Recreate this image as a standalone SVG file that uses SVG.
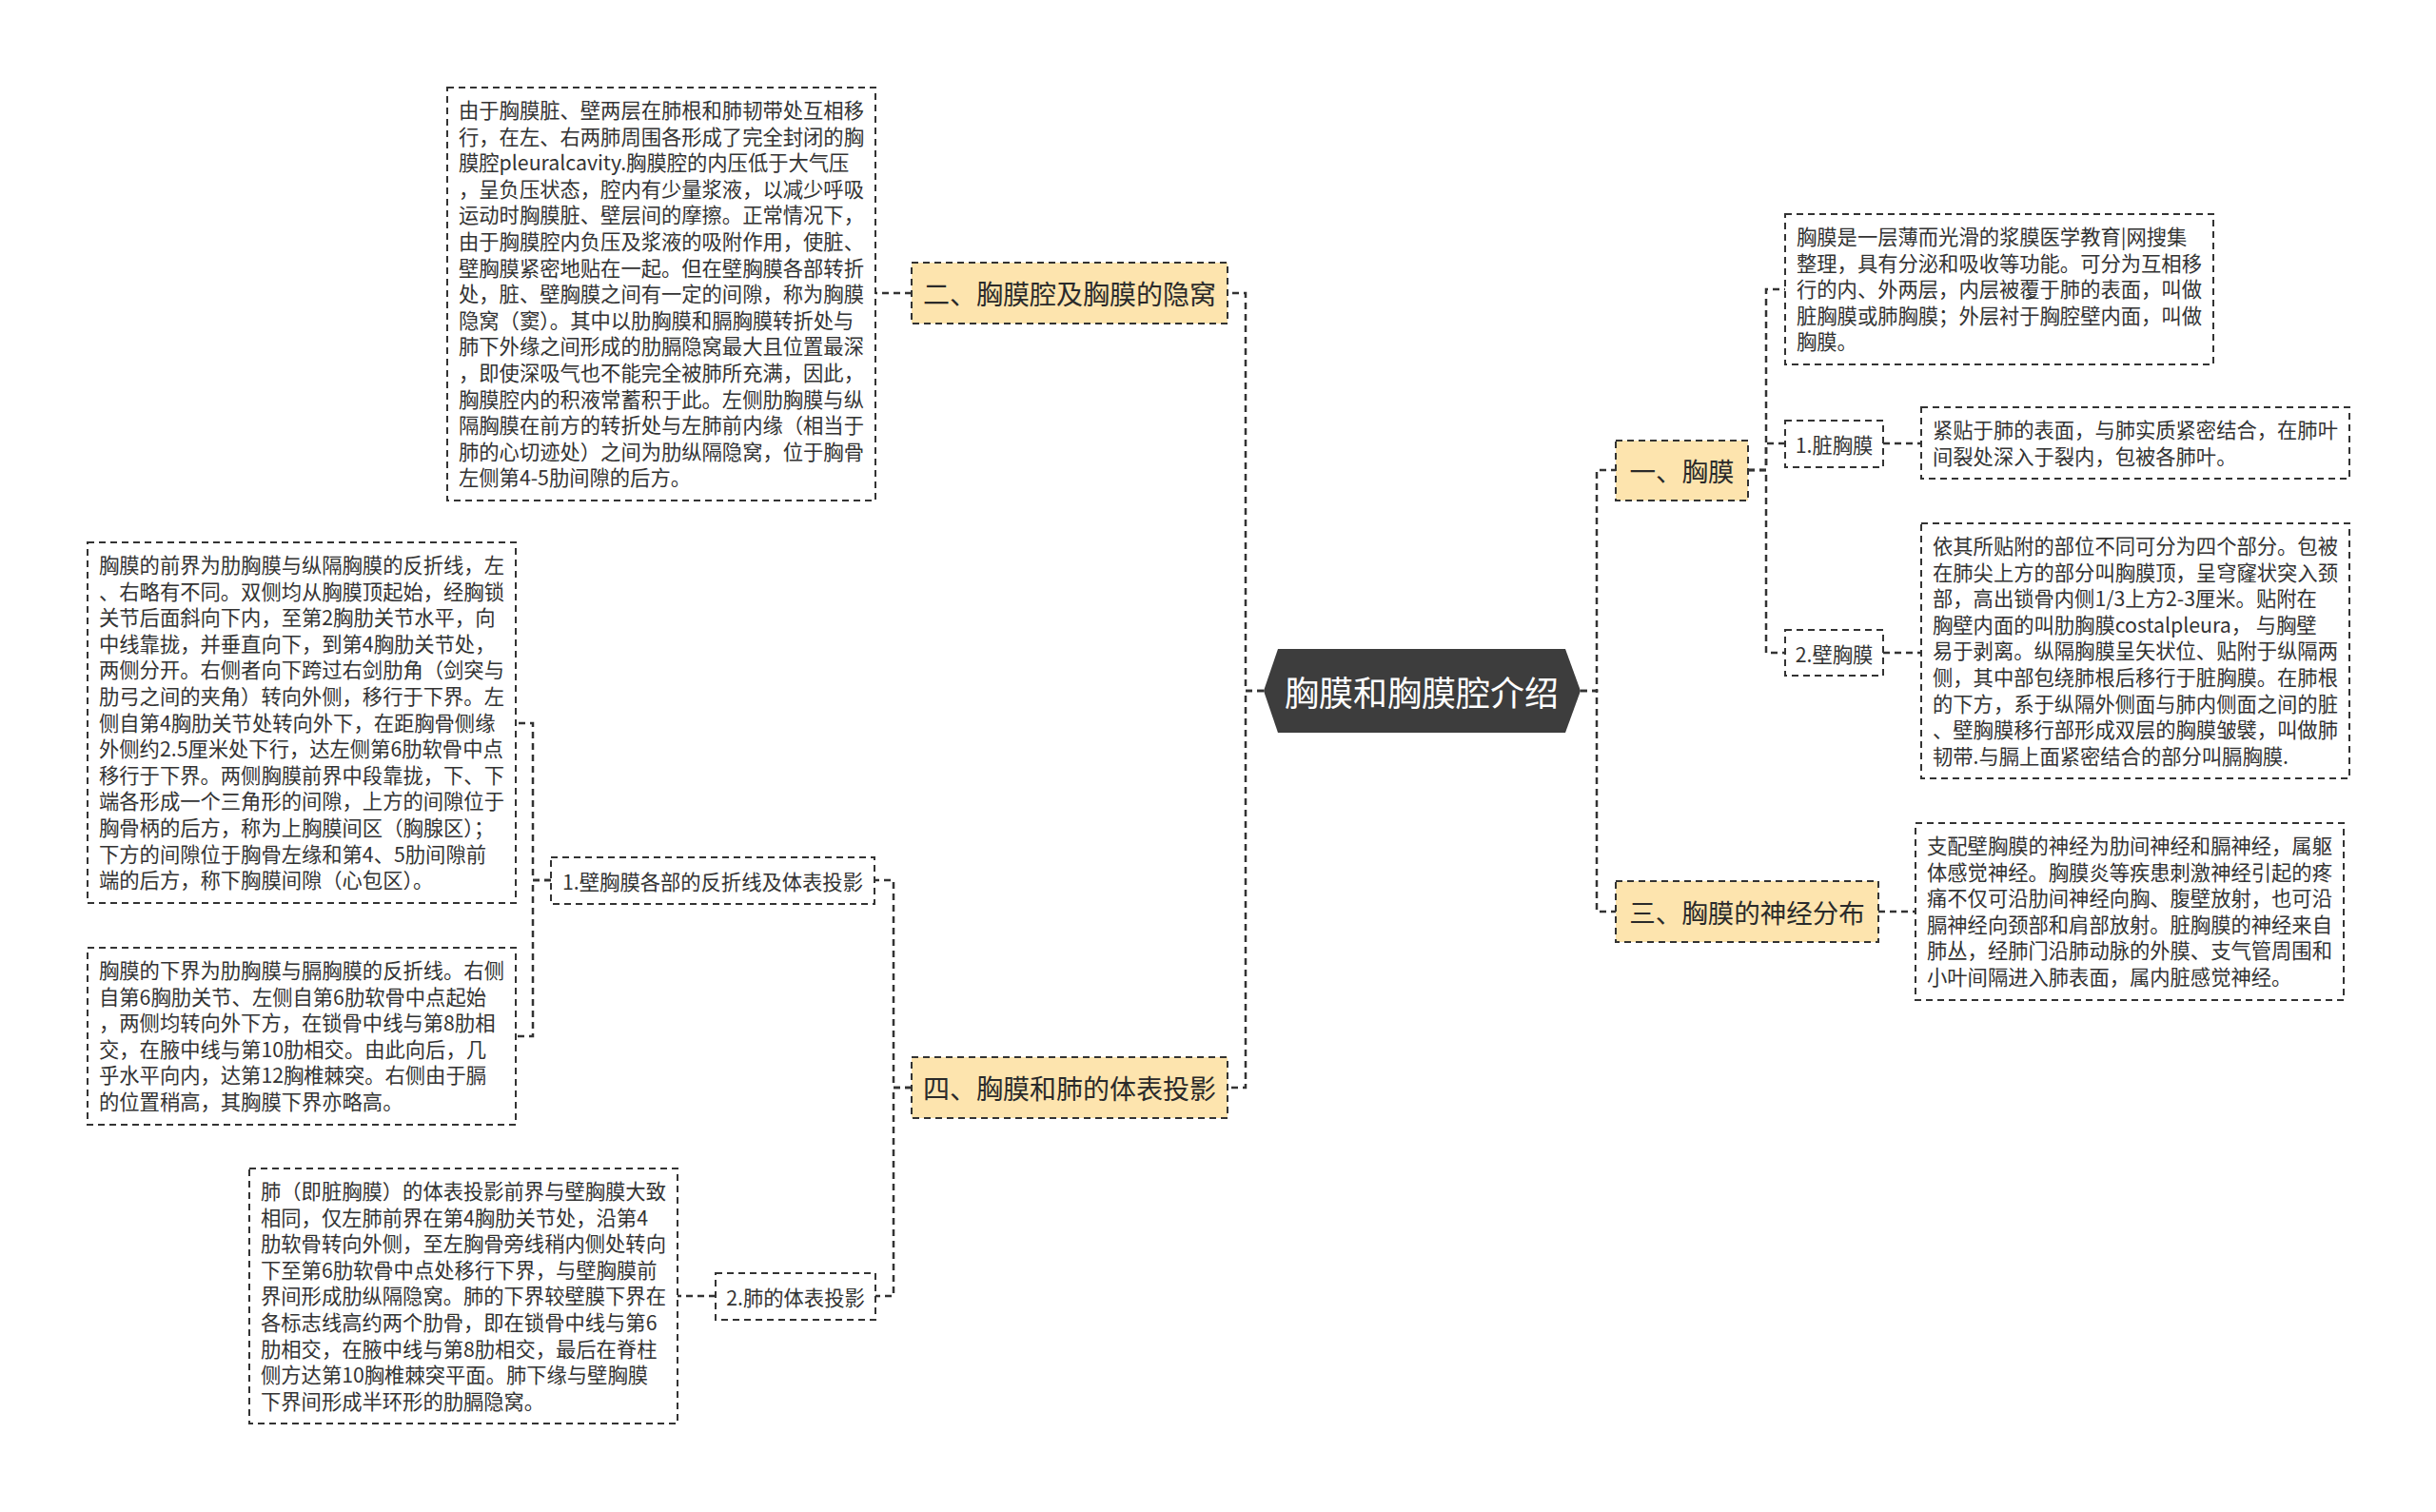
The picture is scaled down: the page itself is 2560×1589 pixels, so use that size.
<svg xmlns="http://www.w3.org/2000/svg" width="2560" height="1589" viewBox="0 0 2560 1589">
<style>
.conn{fill:none;stroke:#333;stroke-width:2.5;stroke-dasharray:7 5}
.box{fill:#fff;stroke:#333;stroke-width:2;stroke-dasharray:7 5}
.branch{fill:#fde4ae;stroke:#333;stroke-width:2;stroke-dasharray:7 5}
.t{font-family:"Noto Sans CJK SC","Noto Sans",sans-serif;font-size:21.3px;fill:#333}
.bl{font-family:"Noto Sans CJK SC","Noto Sans",sans-serif;font-size:28px;fill:#2a2a2a;text-anchor:middle;dominant-baseline:central}
.br{font-family:"Noto Sans CJK SC","Noto Sans",sans-serif;font-size:27.5px;fill:#2a2a2a;text-anchor:middle;dominant-baseline:central}
.sub{font-family:"Noto Sans CJK SC","Noto Sans",sans-serif;font-size:21.3px;fill:#333;text-anchor:middle;dominant-baseline:central}
</style>
<rect width="2560" height="1589" fill="#fff"/>
<g id="connectors">
<path class="conn" d="M1328,726 H1309 V308 H1290"/>
<path class="conn" d="M1328,726 H1309 V1143 H1290"/>
<path class="conn" d="M1661,726 H1678 V494 H1698"/>
<path class="conn" d="M1661,726 H1678 V958 H1698"/>
<path class="conn" d="M958,308 H920"/>
<path class="conn" d="M958,1143 H939 V925 H919"/>
<path class="conn" d="M958,1143 H939 V1362 H920"/>
<path class="conn" d="M579,925 H560 V760 H542"/>
<path class="conn" d="M579,925 H560 V1089 H542"/>
<path class="conn" d="M752,1362 H712"/>
<path class="conn" d="M1837,494 H1856 V304 H1876"/>
<path class="conn" d="M1837,494 H1856 V466 H1876"/>
<path class="conn" d="M1837,494 H1856 V686 H1876"/>
<path class="conn" d="M1979,466 H2019"/>
<path class="conn" d="M1979,686 H2019"/>
<path class="conn" d="M1974,958 H2013"/>
</g>
<g id="root">
<polygon points="1328,726 1343,682 1645,682 1661,726 1645,770 1343,770" fill="#3d3d3d"/>
<text x="1494" y="726" font-family="Noto Sans CJK SC, sans-serif" font-size="36" fill="#fff" text-anchor="middle" dominant-baseline="central">胸膜和胸膜腔介绍</text>
</g>
<g id="b2">
<rect class="branch" x="958" y="276" width="332" height="64"/>
<text class="bl" x="1124" y="308">二、胸膜腔及胸膜的隐窝</text>
</g>
<g id="b2text">
<rect class="box" x="470" y="92" width="450" height="434"/>
<text class="t" x="482" y="124">
<tspan x="482">由于胸膜脏、壁两层在肺根和肺韧带处互相移</tspan>
<tspan x="482" dy="27.6">行，在左、右两肺周围各形成了完全封闭的胸</tspan>
<tspan x="482" dy="27.6">膜腔pleuralcavity.胸膜腔的内压低于大气压</tspan>
<tspan x="482" dy="27.6">，呈负压状态，腔内有少量浆液，以减少呼吸</tspan>
<tspan x="482" dy="27.6">运动时胸膜脏、壁层间的摩擦。正常情况下，</tspan>
<tspan x="482" dy="27.6">由于胸膜腔内负压及浆液的吸附作用，使脏、</tspan>
<tspan x="482" dy="27.6">壁胸膜紧密地贴在一起。但在壁胸膜各部转折</tspan>
<tspan x="482" dy="27.6">处，脏、壁胸膜之间有一定的间隙，称为胸膜</tspan>
<tspan x="482" dy="27.6">隐窝（窦）。其中以肋胸膜和膈胸膜转折处与</tspan>
<tspan x="482" dy="27.6">肺下外缘之间形成的肋膈隐窝最大且位置最深</tspan>
<tspan x="482" dy="27.6">，即使深吸气也不能完全被肺所充满，因此，</tspan>
<tspan x="482" dy="27.6">胸膜腔内的积液常蓄积于此。左侧肋胸膜与纵</tspan>
<tspan x="482" dy="27.6">隔胸膜在前方的转折处与左肺前内缘（相当于</tspan>
<tspan x="482" dy="27.6">肺的心切迹处）之间为肋纵隔隐窝，位于胸骨</tspan>
<tspan x="482" dy="27.6">左侧第4-5肋间隙的后方。</tspan>
</text>
</g>
<g id="b4">
<rect class="branch" x="958" y="1111" width="332" height="64"/>
<text class="bl" x="1124" y="1143">四、胸膜和肺的体表投影</text>
</g>
<g id="b4s1">
<rect class="box" x="579" y="901" width="340" height="49"/>
<text class="sub" x="749" y="925">1.壁胸膜各部的反折线及体表投影</text>
</g>
<g id="b4s1a">
<rect class="box" x="92" y="570" width="450" height="379"/>
<text class="t" x="104" y="602">
<tspan x="104">胸膜的前界为肋胸膜与纵隔胸膜的反折线，左</tspan>
<tspan x="104" dy="27.6">、右略有不同。双侧均从胸膜顶起始，经胸锁</tspan>
<tspan x="104" dy="27.6">关节后面斜向下内，至第2胸肋关节水平，向</tspan>
<tspan x="104" dy="27.6">中线靠拢，并垂直向下，到第4胸肋关节处，</tspan>
<tspan x="104" dy="27.6">两侧分开。右侧者向下跨过右剑肋角（剑突与</tspan>
<tspan x="104" dy="27.6">肋弓之间的夹角）转向外侧，移行于下界。左</tspan>
<tspan x="104" dy="27.6">侧自第4胸肋关节处转向外下，在距胸骨侧缘</tspan>
<tspan x="104" dy="27.6">外侧约2.5厘米处下行，达左侧第6肋软骨中点</tspan>
<tspan x="104" dy="27.6">移行于下界。两侧胸膜前界中段靠拢，下、下</tspan>
<tspan x="104" dy="27.6">端各形成一个三角形的间隙，上方的间隙位于</tspan>
<tspan x="104" dy="27.6">胸骨柄的后方，称为上胸膜间区（胸腺区）；</tspan>
<tspan x="104" dy="27.6">下方的间隙位于胸骨左缘和第4、5肋间隙前</tspan>
<tspan x="104" dy="27.6">端的后方，称下胸膜间隙（心包区）。</tspan>
</text>
</g>
<g id="b4s1b">
<rect class="box" x="92" y="996" width="450" height="186"/>
<text class="t" x="104" y="1028">
<tspan x="104">胸膜的下界为肋胸膜与膈胸膜的反折线。右侧</tspan>
<tspan x="104" dy="27.6">自第6胸肋关节、左侧自第6肋软骨中点起始</tspan>
<tspan x="104" dy="27.6">，两侧均转向外下方，在锁骨中线与第8肋相</tspan>
<tspan x="104" dy="27.6">交，在腋中线与第10肋相交。由此向后，几</tspan>
<tspan x="104" dy="27.6">乎水平向内，达第12胸椎棘突。右侧由于膈</tspan>
<tspan x="104" dy="27.6">的位置稍高，其胸膜下界亦略高。</tspan>
</text>
</g>
<g id="b4s2">
<rect class="box" x="752" y="1338" width="168" height="49"/>
<text class="sub" x="836" y="1362">2.肺的体表投影</text>
</g>
<g id="b4s2a">
<rect class="box" x="262" y="1228" width="450" height="268"/>
<text class="t" x="274" y="1260">
<tspan x="274">肺（即脏胸膜）的体表投影前界与壁胸膜大致</tspan>
<tspan x="274" dy="27.6">相同，仅左肺前界在第4胸肋关节处，沿第4</tspan>
<tspan x="274" dy="27.6">肋软骨转向外侧，至左胸骨旁线稍内侧处转向</tspan>
<tspan x="274" dy="27.6">下至第6肋软骨中点处移行下界，与壁胸膜前</tspan>
<tspan x="274" dy="27.6">界间形成肋纵隔隐窝。肺的下界较壁膜下界在</tspan>
<tspan x="274" dy="27.6">各标志线高约两个肋骨，即在锁骨中线与第6</tspan>
<tspan x="274" dy="27.6">肋相交，在腋中线与第8肋相交，最后在脊柱</tspan>
<tspan x="274" dy="27.6">侧方达第10胸椎棘突平面。肺下缘与壁胸膜</tspan>
<tspan x="274" dy="27.6">下界间形成半环形的肋膈隐窝。</tspan>
</text>
</g>
<g id="b1">
<rect class="branch" x="1698" y="463" width="139" height="63"/>
<text class="br" x="1767.5" y="494">一、胸膜</text>
</g>
<g id="b1text">
<rect class="box" x="1876" y="225" width="450" height="158"/>
<text class="t" x="1888" y="257">
<tspan x="1888">胸膜是一层薄而光滑的浆膜医学教育|网搜集</tspan>
<tspan x="1888" dy="27.6">整理，具有分泌和吸收等功能。可分为互相移</tspan>
<tspan x="1888" dy="27.6">行的内、外两层，内层被覆于肺的表面，叫做</tspan>
<tspan x="1888" dy="27.6">脏胸膜或肺胸膜；外层衬于胸腔壁内面，叫做</tspan>
<tspan x="1888" dy="27.6">胸膜。</tspan>
</text>
</g>
<g id="b1s1">
<rect class="box" x="1876" y="442" width="103" height="49"/>
<text class="sub" x="1927.5" y="466">1.脏胸膜</text>
</g>
<g id="b1s1a">
<rect class="box" x="2019" y="428" width="450" height="75"/>
<text class="t" x="2031" y="460">
<tspan x="2031">紧贴于肺的表面，与肺实质紧密结合，在肺叶</tspan>
<tspan x="2031" dy="27.6">间裂处深入于裂内，包被各肺叶。</tspan>
</text>
</g>
<g id="b1s2">
<rect class="box" x="1876" y="662" width="103" height="48"/>
<text class="sub" x="1927.5" y="686">2.壁胸膜</text>
</g>
<g id="b1s2a">
<rect class="box" x="2019" y="550" width="450" height="268"/>
<text class="t" x="2031" y="582">
<tspan x="2031">依其所贴附的部位不同可分为四个部分。包被</tspan>
<tspan x="2031" dy="27.6">在肺尖上方的部分叫胸膜顶，呈穹窿状突入颈</tspan>
<tspan x="2031" dy="27.6">部，高出锁骨内侧1/3上方2-3厘米。贴附在</tspan>
<tspan x="2031" dy="27.6">胸壁内面的叫肋胸膜costalpleura， 与胸壁</tspan>
<tspan x="2031" dy="27.6">易于剥离。纵隔胸膜呈矢状位、贴附于纵隔两</tspan>
<tspan x="2031" dy="27.6">侧，其中部包绕肺根后移行于脏胸膜。在肺根</tspan>
<tspan x="2031" dy="27.6">的下方，系于纵隔外侧面与肺内侧面之间的脏</tspan>
<tspan x="2031" dy="27.6">、壁胸膜移行部形成双层的胸膜皱襞，叫做肺</tspan>
<tspan x="2031" dy="27.6">韧带.与膈上面紧密结合的部分叫膈胸膜.</tspan>
</text>
</g>
<g id="b3">
<rect class="branch" x="1698" y="926" width="276" height="64"/>
<text class="br" x="1836" y="958">三、胸膜的神经分布</text>
</g>
<g id="b3text">
<rect class="box" x="2013" y="865" width="450" height="186"/>
<text class="t" x="2025" y="897">
<tspan x="2025">支配壁胸膜的神经为肋间神经和膈神经，属躯</tspan>
<tspan x="2025" dy="27.6">体感觉神经。胸膜炎等疾患刺激神经引起的疼</tspan>
<tspan x="2025" dy="27.6">痛不仅可沿肋间神经向胸、腹壁放射，也可沿</tspan>
<tspan x="2025" dy="27.6">膈神经向颈部和肩部放射。脏胸膜的神经来自</tspan>
<tspan x="2025" dy="27.6">肺丛，经肺门沿肺动脉的外膜、支气管周围和</tspan>
<tspan x="2025" dy="27.6">小叶间隔进入肺表面，属内脏感觉神经。</tspan>
</text>
</g>
</svg>
